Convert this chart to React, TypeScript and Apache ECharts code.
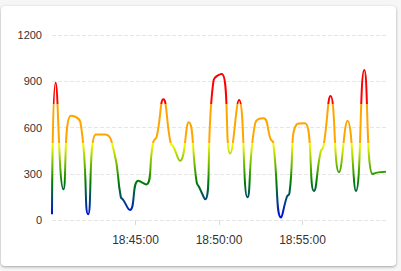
import React, { useEffect, useRef } from "react";
import * as echarts from "echarts";

// seconds after 18:40:00
const offsets = [0, 13, 41, 68, 102, 130, 158, 190, 223, 247, 256, 280, 310, 338, 364, 376, 400, 426, 436, 460, 491, 520, 528, 550, 580, 610, 640, 672, 702, 730, 759, 786, 795, 823, 844, 853, 879, 909, 941, 965, 975, 1001, 1031, 1062, 1092, 1122, 1152, 1172, 1200];
const values = [37, 890, 199, 676, 634, 37, 555, 555, 443, 151, 130, 65, 255, 231, 508, 540, 783, 501, 475, 385, 634, 242, 216, 134, 901, 947, 432, 778, 147, 627, 660, 523, 501, 17, 151, 173, 620, 627, 188, 443, 475, 804, 309, 644, 188, 973, 298, 309, 313];
const startTime = [18, 40, 0];
const xTicks = { min: 0, max: 1200, interval: 300 };
const yTicks = { min: 0, max: 1200, interval: 300 };

const lowStops: [number, string][] = [
  [0, "#0000ff"],
  [250, "#008000"],
  [500, "#ffff00"],
];

function hex(c: string) {
  return [1, 3, 5].map((i) => parseInt(c.slice(i, i + 2), 16));
}
function interp(v: number) {
  for (let i = 0; i < lowStops.length - 1; i++) {
    const [a, ca] = lowStops[i];
    const [b, cb] = lowStops[i + 1];
    if (v >= a && v <= b) {
      const t = (v - a) / (b - a);
      const x = hex(ca), y = hex(cb);
      const r = x.map((k, j) => Math.round(k + (y[j] - k) * t));
      return `rgb(${r[0]},${r[1]},${r[2]})`;
    }
  }
  return lowStops[lowStops.length - 1][1];
}

function fmtTime(sec: number) {
  const total = startTime[0] * 3600 + startTime[1] * 60 + startTime[2] + sec;
  const h = Math.floor(total / 3600) % 24;
  const m = Math.floor(total / 60) % 60;
  const s = total % 60;
  const p = (n: number) => String(n).padStart(2, "0");
  return `${p(h)}:${p(m)}:${p(s)}`;
}

export default function App() {
  const ref = useRef<HTMLDivElement>(null);
  useEffect(() => {
    if (!ref.current) return;
    const chart = echarts.init(ref.current, null, { renderer: "svg" });
    const data = offsets.map((s, i) => [s, values[i]]);
    const pieces: any[] = [];
    for (let v = 0; v < 500; v += 10) {
      pieces.push({ gte: v, lt: v + 10, color: interp(v + 5) });
    }
    pieces.push({ gte: 500, lt: 750, color: "#ffa500" });
    pieces.push({ gte: 750, color: "#ff0000" });
    chart.setOption({
      animation: false,
      grid: { left: 52, right: 15, top: 35, bottom: 51 },
      visualMap: { show: false, type: "piecewise", dimension: 1, pieces },
      xAxis: {
        type: "value",
        min: xTicks.min,
        max: xTicks.max,
        interval: xTicks.interval,
        axisLine: { show: false },
        axisTick: { show: true, length: 5, lineStyle: { color: "#d8d8d8" } },
        splitLine: { show: false },
        axisLabel: {
          formatter: (v: number) => fmtTime(v),
          color: "#333",
          fontSize: 12,
          margin: 14,
          showMinLabel: false,
          showMaxLabel: false,
          fontFamily: "Liberation Sans, Arial, sans-serif",
        },
      },
      yAxis: {
        type: "value",
        min: yTicks.min,
        max: yTicks.max,
        interval: yTicks.interval,
        axisLine: { show: false },
        axisTick: { show: false },
        splitLine: { lineStyle: { type: "dashed", color: "#e6e6e6" } },
        axisLabel: {
          formatter: (v: number) => String(v),
          color: "#333",
          fontSize: 11,
          margin: 10,
          fontFamily: "Liberation Sans, Arial, sans-serif",
        },
      },
      series: [
        {
          type: "line",
          data,
          smooth: true,
          showSymbol: false,
          lineStyle: { width: 2 },
        },
      ],
    });
    return () => chart.dispose();
  }, []);
  return (
    <div style={{ position: "fixed", left: 0, top: 0, width: 401, height: 271, background: "#f6f6f6" }}>
      <div
        style={{
          position: "absolute",
          left: 1,
          top: 6,
          width: 395,
          height: 260,
          background: "#fff",
          borderRadius: 4,
          boxShadow: "0 1px 3px rgba(0,0,0,0.35)",
        }}
      />
      <div ref={ref} style={{ position: "absolute", left: 0, top: 0, width: 401, height: 271 }} />
    </div>
  );
}
